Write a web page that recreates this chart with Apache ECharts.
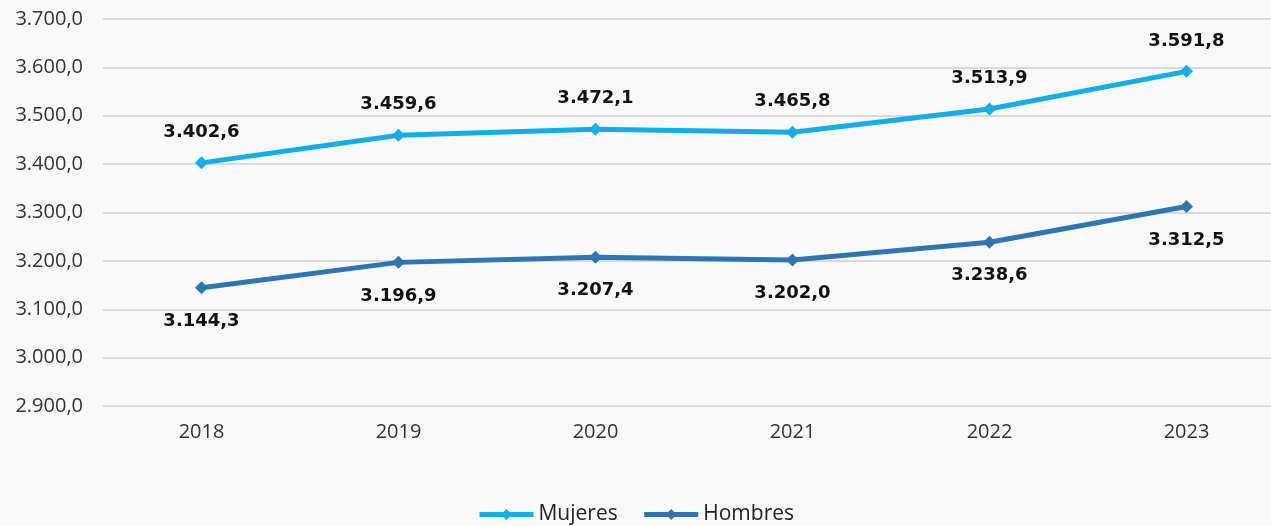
<!DOCTYPE html>
<html><head><meta charset="utf-8">
<script src="https://cdn.jsdelivr.net/npm/echarts@6/dist/echarts.min.js"></script>
<style>html,body{margin:0;padding:0;background:#f9f9f9}#c{width:1271px;height:526px}</style>
</head><body><div id="c"></div>
<script>
const categories = ['2018','2019','2020','2021','2022','2023'];
const mujeres = [3402.6, 3459.6, 3472.1, 3465.8, 3513.9, 3591.8];
const hombres = [3144.3, 3196.9, 3207.4, 3202.0, 3238.6, 3312.5];
const seriesNames = ['Mujeres','Hombres'];

function fmt(v, d) {
  const parts = v.toFixed(d).split('.');
  parts[0] = parts[0].replace(/\B(?=(\d{3})+(?!\d))/g, '.');
  return parts.join(',');
}
const chart = echarts.init(document.getElementById('c'));
const lblStyle = {show:true, fontFamily:'DejaVu Sans', fontWeight:'bold', fontSize:18, color:'#111', formatter: p => fmt(p.value,1)};
chart.setOption({
  backgroundColor:'#f9f9f9',
  animation:false,
  grid:{left:103, width:1182, top:19, bottom:120, outerBoundsMode:'none', containLabel:false},
  legend:{bottom:-4, left:'center', itemWidth:54, itemHeight:14, itemGap:24,
    lineStyle:{width:5},
    textStyle:{fontFamily:'Open Sans', fontSize:21, color:'#222'}, data: seriesNames},
  xAxis:{type:'category', data:categories, boundaryGap:true,
    axisLine:{show:false}, axisTick:{show:false},
    axisLabel:{fontFamily:'Open Sans', fontSize:20, color:'#333', margin:16}},
  yAxis:{type:'value', min:2900, max:3700, interval:100,
    axisLabel:{fontFamily:'Open Sans', fontSize:20, color:'#333', margin:20, formatter: v => fmt(v,1)},
    splitLine:{lineStyle:{color:'#d9d9d9', width:2}}},
  series:[
    {name:seriesNames[0], type:'line', data:mujeres, symbol:'diamond', symbolSize:13,
     lineStyle:{color:'#13aee9', width:5}, itemStyle:{color:'#13aee9'},
     label:Object.assign({position:'top', distance:15}, lblStyle)},
    {name:seriesNames[1], type:'line', data:hombres, symbol:'diamond', symbolSize:13,
     lineStyle:{color:'#2e75b6', width:5}, itemStyle:{color:'#2e75b6'},
     label:Object.assign({position:'bottom', distance:18}, lblStyle)}
  ]
});
</script></body></html>
